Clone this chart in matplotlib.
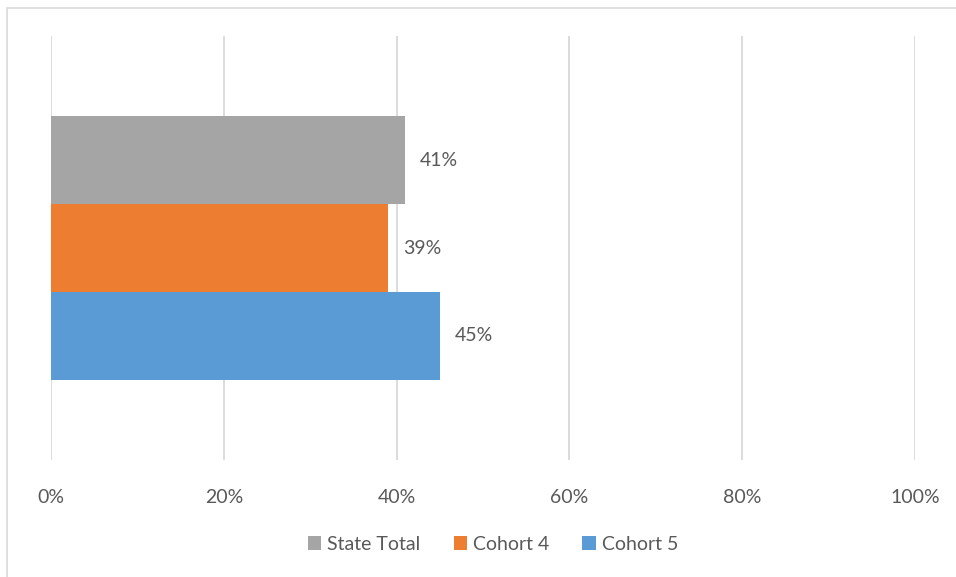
import matplotlib
matplotlib.use("Agg")
import matplotlib.pyplot as plt
from matplotlib.patches import Rectangle, Patch
from matplotlib.ticker import FuncFormatter

# datos
series = ["State Total", "Cohort 4", "Cohort 5"]
valores = [0.41, 0.39, 0.45]
colores = ["#A5A5A5", "#ED7D31", "#5B9BD5"]
etiquetas = ["41%", "39%", "45%"]
ticks_x = [0, 0.2, 0.4, 0.6, 0.8, 1.0]

plt.rcParams['font.family'] = ['Lato', 'DejaVu Sans']
texto = "#595959"
tam = 14

fig = plt.figure(figsize=(9.56, 5.77), dpi=100)
ax = fig.add_axes([51/956, 1-460/577, 864/956, 424/577])

alto = 0.2075
desplaz = [alto, 0, -alto]
for nombre, v, c, d, et in zip(series, valores, colores, desplaz, etiquetas):
    ax.barh(d, v, height=alto, color=c, label=nombre, zorder=3)
    ax.text(v + 0.017, d, et, va='center', ha='left', fontsize=tam, color=texto)

ax.set_xlim(0, 1.0)
ax.set_ylim(-0.5, 0.5)
ax.set_xticks(ticks_x)
ax.xaxis.set_major_formatter(FuncFormatter(lambda x, p: f"{x:.0%}"))
ax.set_yticks([])
ax.tick_params(axis='x', length=0, pad=21, labelsize=tam, labelcolor=texto)
ax.grid(axis='x', color='#D9D9D9', linewidth=1.3, zorder=0)
for s in ax.spines.values():
    s.set_visible(False)

handles = [Patch(facecolor=c, label=n) for n, c in zip(series, colores)]
fig.legend(handles=handles, loc='center', bbox_to_anchor=(493/956, 1-544/577),
           ncol=3, frameon=False, fontsize=tam, labelcolor=texto,
           handlelength=0.7, handleheight=0.7, handletextpad=0.3, columnspacing=1.7)

# borde del grafico
fig.patches.append(Rectangle((7/956, -0.05), 1.1, 1-8/577+0.05, transform=fig.transFigure,
                             fill=False, edgecolor='#D9D9D9', linewidth=1.2))

fig.savefig("out.png", dpi=100)
